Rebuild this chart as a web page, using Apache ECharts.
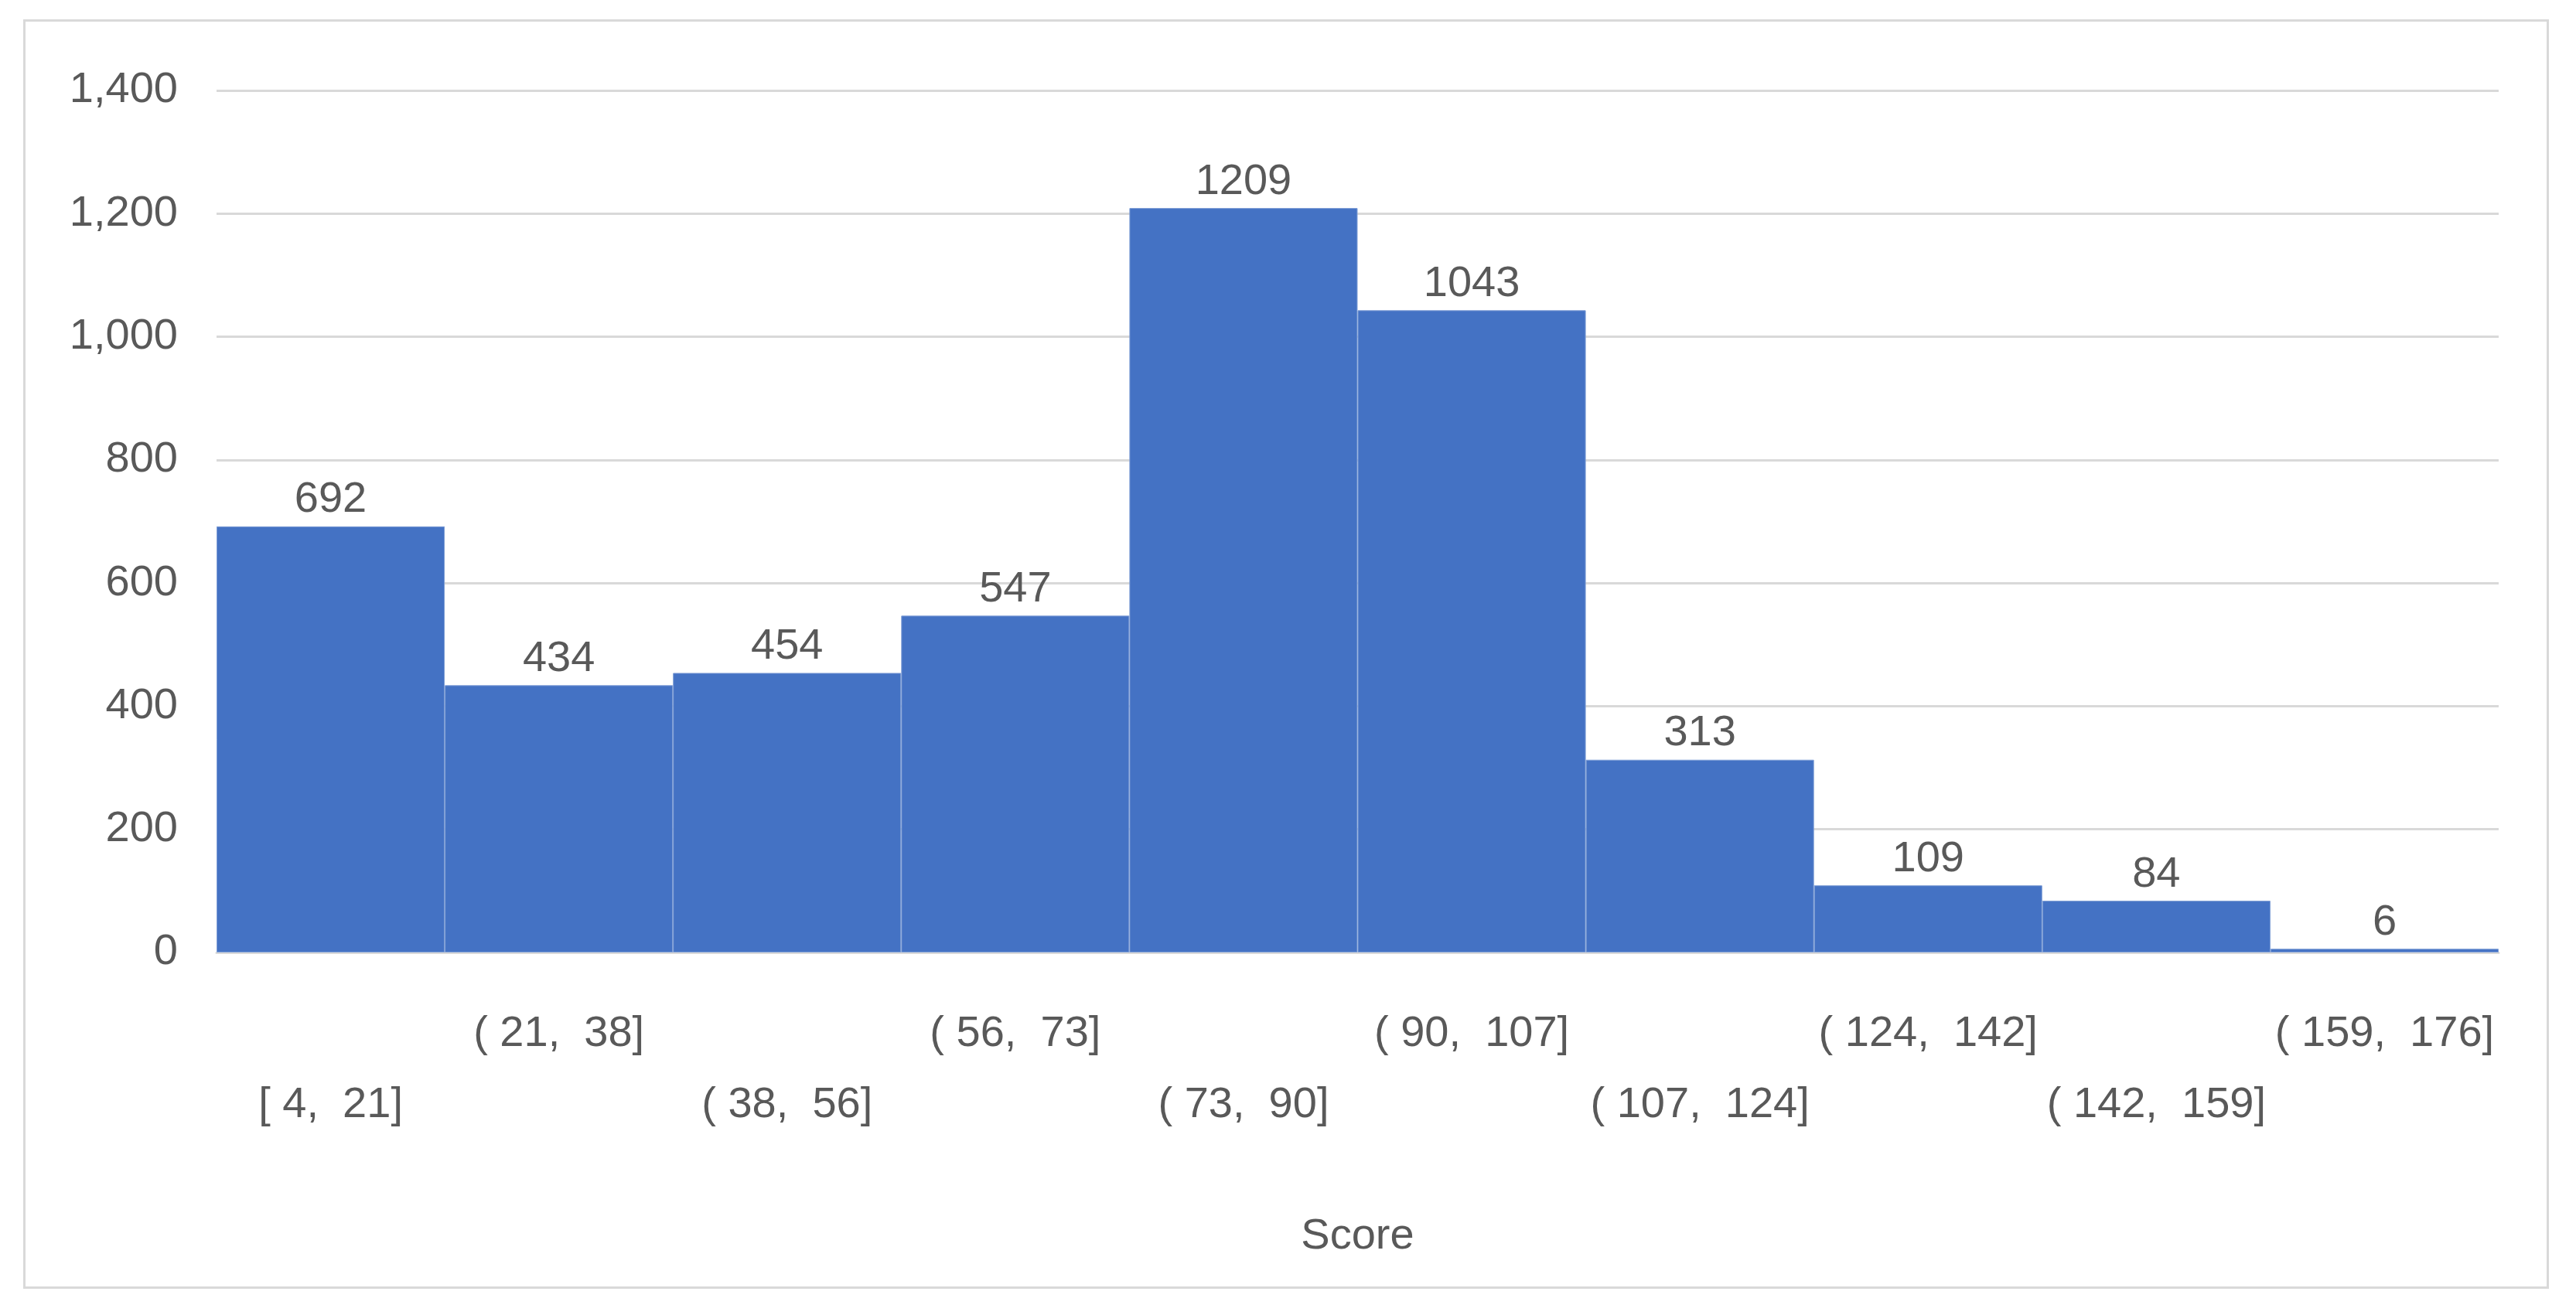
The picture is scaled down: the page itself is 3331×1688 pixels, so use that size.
<!DOCTYPE html>
<html><head><meta charset="utf-8">
<script src="https://cdn.jsdelivr.net/npm/echarts@6/dist/echarts.min.js"></script>
<style>html,body{margin:0;padding:0;background:#fff}#c{width:3331px;height:1688px}
#b{position:absolute;left:30px;top:25px;width:3266px;height:1642px;border:3px solid #d9d9d9;box-sizing:border-box;pointer-events:none}</style>
</head><body><div id="c"></div><div id="b"></div>
<script>
const categories=['[ 4,  21]','( 21,  38]','( 38,  56]','( 56,  73]','( 73,  90]','( 90,  107]','( 107,  124]','( 124,  142]','( 142,  159]','( 159,  176]'];
const counts=[692,434,454,547,1209,1043,313,109,84,6];
const yTicks=[0,200,400,600,800,1000,1200,1400];
const chart=echarts.init(document.getElementById('c'));
const font='"Liberation Sans", "DejaVu Sans", sans-serif';
chart.setOption({
  animation:false,
  grid:{left:280,right:100,top:117,bottom:456},
  xAxis:{type:'category',data:categories,name:'Score',nameLocation:'middle',nameGap:340,
    nameTextStyle:{fontSize:56,color:'#595959',fontFamily:font},
    axisLine:{lineStyle:{color:'#d9d9d9',width:3}},axisTick:{show:false},
    axisLabel:{interval:0,margin:60,fontSize:56,color:'#595959',fontFamily:font,lineHeight:92,
      formatter:(v,i)=>i%2===0?'\n'+v:v}},
  yAxis:{type:'value',min:yTicks[0],max:yTicks[yTicks.length-1],interval:200,
    axisLabel:{fontSize:56,color:'#595959',fontFamily:font,margin:50},
    splitLine:{lineStyle:{color:'#d9d9d9',width:3}},axisLine:{show:false}},
  series:[{type:'bar',data:counts,barCategoryGap:0,
    itemStyle:{color:'#4472C4',borderColor:'#7f9ed6',borderWidth:1},
    label:{show:true,position:'top',fontSize:56,color:'#595959',fontFamily:font,distance:6}}]
});
</script></body></html>
